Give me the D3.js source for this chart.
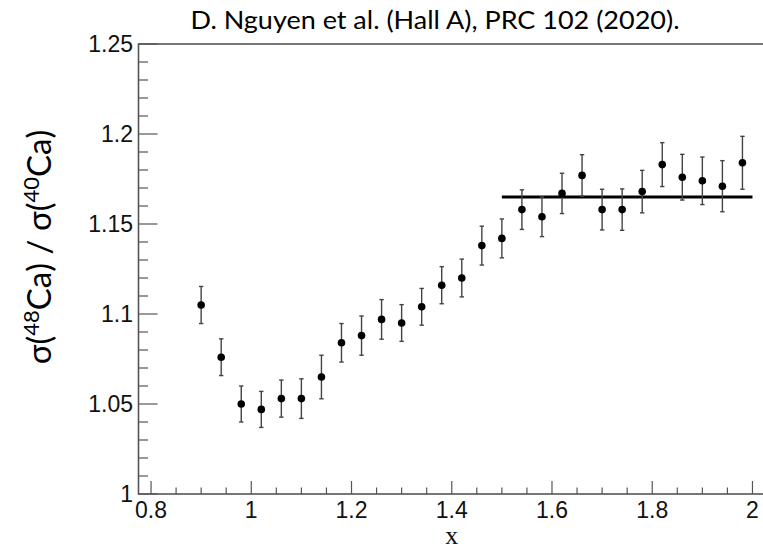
<!DOCTYPE html>
<html>
<head>
<meta charset="utf-8">
<script src="https://cdn.jsdelivr.net/npm/d3@7"></script>
<style>
  html, body { margin: 0; padding: 0; background: #fff; }
  svg { display: block; }
</style>
</head>
<body>
<svg id="chart" width="763" height="549"></svg>
<script>
// Cross-section ratio 48Ca/40Ca versus x
const xValues = [0.90, 0.94, 0.98, 1.02, 1.06, 1.10, 1.14, 1.18, 1.22, 1.26,
                 1.30, 1.34, 1.38, 1.42, 1.46, 1.50, 1.54, 1.58, 1.62, 1.66,
                 1.70, 1.74, 1.78, 1.82, 1.86, 1.90, 1.94, 1.98];
const ratio   = [1.105, 1.076, 1.050, 1.047, 1.053, 1.053, 1.065, 1.084, 1.088, 1.097,
                 1.095, 1.104, 1.116, 1.120, 1.138, 1.142, 1.158, 1.154, 1.167, 1.177,
                 1.158, 1.158, 1.168, 1.183, 1.176, 1.174, 1.171, 1.184];
const ratioErr = [0.0103, 0.0102, 0.0100, 0.0100, 0.0103, 0.0110, 0.0121, 0.0107, 0.0109, 0.0110,
                  0.0102, 0.0102, 0.0103, 0.0105, 0.0108, 0.0108, 0.0110, 0.0110, 0.0112, 0.0115,
                  0.0113, 0.0115, 0.0118, 0.0122, 0.0127, 0.0132, 0.0142, 0.0147];
// Constant fit over the plateau region
const plateauX = [1.5, 2.0];
const plateauValue = 1.165;

const xTicks = [0.8, 1.0, 1.2, 1.4, 1.6, 1.8, 2.0];
const xTickLabels = ["0.8", "1", "1.2", "1.4", "1.6", "1.8", "2"];
const yTicks = [1.0, 1.05, 1.1, 1.15, 1.2, 1.25];
const yTickLabels = ["1", "1.05", "1.1", "1.15", "1.2", "1.25"];

const titleText = "D. Nguyen et al. (Hall A), PRC 102 (2020).";

const svg = d3.select("#chart");
const frame = { left: 138.5, right: 765, top: 44, bottom: 494 };

const x = d3.scaleLinear().domain([0.775, 2.025]).range([frame.left, frame.right]);
const y = d3.scaleLinear().domain([1.0, 1.25]).range([frame.bottom, frame.top]);

const axisColor = "#555";

// Frame
svg.append("rect")
  .attr("x", frame.left).attr("y", frame.top)
  .attr("width", frame.right - frame.left).attr("height", frame.bottom - frame.top)
  .attr("fill", "none").attr("stroke", axisColor).attr("stroke-width", 1.6);

// X axis: major + minor ticks pointing inward
const xMinor = d3.range(0.8, 2.0001, 0.05).map(v => +v.toFixed(3));
const gx = svg.append("g");
gx.selectAll("line.minor").data(xMinor).join("line")
  .attr("x1", d => x(d)).attr("x2", d => x(d))
  .attr("y1", frame.bottom).attr("y2", d => frame.bottom - (xTicks.some(t => Math.abs(t - d) < 1e-6) ? 13 : 6.5))
  .attr("stroke", axisColor).attr("stroke-width", 1.2);
gx.selectAll("text").data(xTicks).join("text")
  .attr("x", d => x(d)).attr("y", 518)
  .attr("text-anchor", "middle")
  .attr("font-family", "'Liberation Sans', Arial, sans-serif")
  .attr("font-size", 23)
  .attr("fill", "#111")
  .text((d, i) => xTickLabels[i]);

// Y axis
const yMinor = d3.range(1.0, 1.2501, 0.01).map(v => +v.toFixed(3));
const gy = svg.append("g");
gy.selectAll("line").data(yMinor).join("line")
  .attr("y1", d => y(d)).attr("y2", d => y(d))
  .attr("x1", frame.left).attr("x2", d => frame.left + (yTicks.some(t => Math.abs(t - d) < 1e-6) ? 19 : 9.5))
  .attr("stroke", axisColor).attr("stroke-width", 1.2);
gy.selectAll("text").data(yTicks).join("text")
  .attr("x", 133).attr("y", d => y(d))
  .attr("dy", "0.35em")
  .attr("text-anchor", "end")
  .attr("font-family", "'Liberation Sans', Arial, sans-serif")
  .attr("font-size", 23)
  .attr("fill", "#111")
  .text((d, i) => yTickLabels[i]);

// Axis titles
svg.append("text")
  .attr("x", (frame.left + frame.right) / 2).attr("y", 544)
  .attr("text-anchor", "middle")
  .attr("font-family", "'Liberation Serif', 'Times New Roman', serif")
  .attr("font-size", 26)
  .attr("fill", "#111")
  .text("x");

const yTitle = svg.append("text")
  .attr("transform", "translate(51,247) rotate(-90)")
  .attr("text-anchor", "middle")
  .attr("font-family", "Lato, 'Open Sans', sans-serif")
  .attr("font-size", 33)
  .attr("fill", "#000");
yTitle.append("tspan").text("σ(");
yTitle.append("tspan").attr("font-size", 22).attr("dy", -12).text("48");
yTitle.append("tspan").attr("dy", 12).text("Ca) / σ(");
yTitle.append("tspan").attr("font-size", 22).attr("dy", -12).text("40");
yTitle.append("tspan").attr("dy", 12).text("Ca)");

// Title
svg.append("text")
  .attr("x", 435).attr("y", 29)
  .attr("text-anchor", "middle")
  .attr("font-family", "Lato, 'Open Sans', sans-serif")
  .attr("font-size", 25)
  .attr("textLength", 489)
  .attr("lengthAdjust", "spacingAndGlyphs")
  .attr("fill", "#000")
  .text(titleText);

// Plateau fit line
svg.append("line")
  .attr("x1", x(plateauX[0])).attr("x2", x(plateauX[1]))
  .attr("y1", y(plateauValue)).attr("y2", y(plateauValue))
  .attr("stroke", "#000").attr("stroke-width", 3);

// Data points with error bars
const pts = xValues.map((v, i) => ({ x: v, y: ratio[i], e: ratioErr[i] }));
const gp = svg.append("g");
const eb = gp.selectAll("g.pt").data(pts).join("g").attr("class", "pt");
eb.append("line")
  .attr("x1", d => x(d.x)).attr("x2", d => x(d.x))
  .attr("y1", d => y(d.y - d.e)).attr("y2", d => y(d.y + d.e))
  .attr("stroke", "#444").attr("stroke-width", 1.4);
eb.append("line")
  .attr("x1", d => x(d.x) - 2.2).attr("x2", d => x(d.x) + 2.2)
  .attr("y1", d => y(d.y - d.e)).attr("y2", d => y(d.y - d.e))
  .attr("stroke", "#444").attr("stroke-width", 1.4);
eb.append("line")
  .attr("x1", d => x(d.x) - 2.2).attr("x2", d => x(d.x) + 2.2)
  .attr("y1", d => y(d.y + d.e)).attr("y2", d => y(d.y + d.e))
  .attr("stroke", "#444").attr("stroke-width", 1.4);
eb.append("circle")
  .attr("cx", d => x(d.x)).attr("cy", d => y(d.y))
  .attr("r", 3.8).attr("fill", "#000");
</script>
</body>
</html>
